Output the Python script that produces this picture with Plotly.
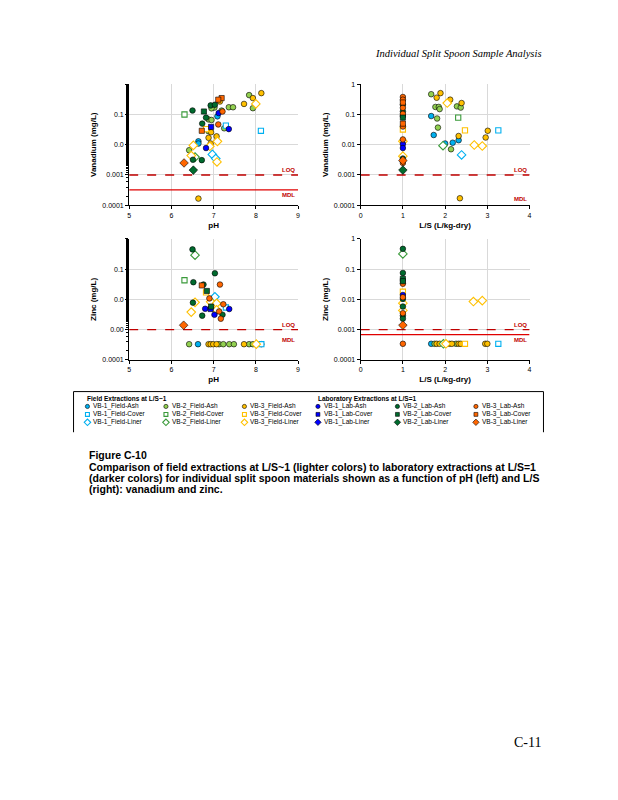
import math
import plotly.graph_objects as go

W, H = 618, 800

# ---------------- series definitions ----------------
SERIES_NAMES = {
    "1FA": "VB-1_Field-Ash", "2FA": "VB-2_Field-Ash", "3FA": "VB-3_Field-Ash",
    "1FC": "VB-1_Field-Cover", "2FC": "VB-2_Field-Cover", "3FC": "VB-3_Field-Cover",
    "1FL": "VB-1_Field-Liner", "2FL": "VB-2_Field-Liner", "3FL": "VB-3_Field-Liner",
    "1LA": "VB-1_Lab-Ash", "2LA": "VB-2_Lab-Ash", "3LA": "VB-3_Lab-Ash",
    "1LC": "VB-1_Lab-Cover", "2LC": "VB-2_Lab-Cover", "3LC": "VB-3_Lab-Cover",
    "1LL": "VB-1_Lab-Liner", "2LL": "VB-2_Lab-Liner", "3LL": "VB-3_Lab-Liner",
}
FIELD_ORDER = ["1FA", "2FA", "3FA", "1FC", "2FC", "3FC", "1FL", "2FL", "3FL"]
LAB_ORDER = ["1LA", "2LA", "3LA", "1LC", "2LC", "3LC", "1LL", "2LL", "3LL"]
FIELD_TITLE = "Field Extractions at L/S~1"
LAB_TITLE = "Laboratory Extractions at L/S=1"

# ---------------- data: Vanadium vs pH ----------------
VPH_SER = ["2LA", "2FC", "2LC", "2LA", "2LA", "2FA", "2FA", "3LC", "3FA", "3LC",
           "3LA", "2FA", "1LA", "1FA", "2FA", "2FA", "3FA", "2FA", "3FA", "3FA",
           "3FL", "2FA", "1FC", "2LA", "2FA", "2FA", "2LA", "3LA", "1FC", "2FA",
           "1LA", "3LC", "3FC", "2FA", "3FA", "1LC", "3FA", "3FA", "3FL", "1FA",
           "1FA", "3FA", "3FL", "1LA", "3FL", "2FA", "1FL", "1FL", "3FL", "3FL",
           "2FL", "2LA", "2LA", "3LL", "2LL", "3FA"]
VPH_X = [6.50, 6.31, 6.77, 6.93, 7.03, 7.02, 6.95, 7.19, 7.15, 7.11,
         7.21, 7.19, 7.12, 7.09, 7.36, 7.46, 7.72, 7.84, 7.93, 8.13,
         8.00, 7.93, 8.12, 6.82, 6.88, 6.95, 6.73, 7.11, 7.29, 7.25,
         7.36, 6.72, 6.82, 6.88, 6.94, 6.94, 6.88, 7.07, 7.09, 6.64,
         6.64, 6.93, 6.91, 6.82, 6.52, 6.42, 6.97, 7.05, 7.08, 6.47,
         6.56, 6.51, 6.72, 6.30, 6.52, 6.64]
VPH_Y = [0.136, 0.100, 0.126, 0.20, 0.21, 0.17, 0.16, 0.35, 0.27, 0.31,
         0.126, 0.135, 0.112, 0.087, 0.174, 0.174, 0.224, 0.44, 0.35, 0.51,
         0.224, 0.162, 0.029, 0.079, 0.069, 0.066, 0.050, 0.047, 0.043, 0.035,
         0.033, 0.029, 0.033, 0.028, 0.026, 0.039, 0.017, 0.019, 0.013, 0.013,
         0.011, 0.011, 0.0089, 0.0078, 0.0095, 0.0066, 0.0048, 0.0035, 0.0027, 0.0044,
         0.0039, 0.0032, 0.0031, 0.0025, 0.00145, 0.000166]

# ---------------- data: Vanadium vs L/S ----------------
VLS_SER = ["3LA", "3LA", "3LC", "2LA", "3LA", "2LA", "3LA", "2LA", "2LC", "3LC",
           "3LA", "3FC", "3LA", "3FL", "1LA", "1LA", "3FL", "2LA", "3LL", "3LA",
           "2LL", "2FA", "3FA", "3FA", "3FL", "3FA", "2FA", "2FA", "2FA", "2FA",
           "2FA", "3FA", "1FA", "2FA", "2FC", "2FA", "3FC", "3FA", "1FC", "1FA",
           "3FA", "3FA", "1FA", "1FA", "1FA", "2FL", "3FL", "3FL", "2FA", "1FL",
           "3FA"]
VLS_X = [1, 1, 1, 1, 1, 1, 1, 1, 1, 1,
         1, 1, 1, 1, 1, 1, 1, 1, 1, 1,
         1, 1.67, 1.89, 1.80, 2.05, 2.12, 1.77, 1.85, 1.87, 2.28,
         2.37, 2.39, 1.67, 1.81, 2.31, 1.83, 2.47, 3.01, 3.26, 1.73,
         2.32, 2.96, 2.32, 2.18, 2.00, 1.95, 2.69, 2.88, 2.14, 2.39,
         2.35]
VLS_Y = [0.38, 0.31, 0.25, 0.21, 0.166, 0.126, 0.105, 0.089, 0.079, 0.050,
         0.040, 0.032, 0.015, 0.013, 0.0105, 0.0078, 0.0042, 0.0035, 0.0030, 0.0025,
         0.00145, 0.47, 0.51, 0.36, 0.24, 0.31, 0.178, 0.178, 0.151, 0.186,
         0.17, 0.24, 0.089, 0.074, 0.079, 0.037, 0.030, 0.029, 0.030, 0.021,
         0.0195, 0.0174, 0.0141, 0.0117, 0.0110, 0.0093, 0.0098, 0.0091, 0.0071, 0.0046,
         0.00017]

# ---------------- data: Zinc vs pH ----------------
ZPH_SER = ["2LA", "2FL", "2FC", "2LA", "2LA", "3LA", "3LC", "2LA", "2LC", "3FC",
           "3LA", "3FL", "1FL", "3FL", "2LA", "3FL", "2LC", "1LA", "1LC", "3FL",
           "3LA", "3LA", "1FC", "1LA", "3FL", "2LA", "1LA", "2LA", "3LA", "3LL",
           "2FA", "1FA", "3FA", "3FA", "3FA", "3FA", "2FA", "2FA", "2FA", "2FA",
           "3FA", "2FA", "2FA", "3FL", "3FA", "1FC"]
ZPH_X = [6.50, 6.56, 6.31, 6.52, 7.03, 7.15, 6.72, 6.76, 6.84, 6.82,
         6.90, 6.93, 7.03, 7.07, 6.51, 6.56, 6.94, 6.80, 6.93, 7.07,
         7.13, 7.23, 7.29, 7.37, 6.47, 6.73, 7.02, 7.21, 7.17, 6.29,
         6.42, 6.63, 6.88, 6.93, 6.99, 7.07, 7.13, 7.23, 7.37, 7.48,
         7.72, 7.84, 7.93, 8.01, 8.13, 8.13]
ZPH_Y = [0.45, 0.29, 0.043, 0.037, 0.073, 0.031, 0.029, 0.031, 0.019, 0.017,
         0.0108, 0.0083, 0.0122, 0.0074, 0.0078, 0.0080, 0.0058, 0.0049, 0.0048, 0.0045,
         0.0040, 0.0069, 0.0054, 0.0048, 0.0038, 0.0029, 0.0031, 0.0031, 0.0023, 0.0014,
         0.00033, 0.00033, 0.00033, 0.00033, 0.00033, 0.00033, 0.00033, 0.00033, 0.00033, 0.00033,
         0.00033, 0.00033, 0.00033, 0.00033, 0.00033, 0.00033]

# ---------------- data: Zinc vs L/S ----------------
ZLS_SER = ["2LA", "2FL", "2LA", "2LC", "2LC", "3LA", "3FC", "1LA", "3LA", "2LA",
           "3FL", "2LA", "3FL", "3LA", "2LA", "2LA", "3LL", "3LA", "3FL", "3FL",
           "1FA", "2FA", "3FA", "3FA", "2FL", "3FL", "3FA", "3FA", "2FA", "3FA",
           "3FA", "3FC", "3FA", "3FA", "1FC"]
ZLS_X = [1, 1, 1, 1, 1, 1, 1, 1, 1, 1,
         1, 1, 1, 1, 1, 1, 1, 1, 2.67, 2.88,
         1.67, 1.75, 1.80, 1.87, 1.96, 2.02, 2.10, 2.16, 2.26, 2.32,
         2.37, 2.47, 2.95, 3.00, 3.26]
ZLS_Y = [0.47, 0.32, 0.075, 0.048, 0.040, 0.033, 0.018, 0.014, 0.0118, 0.0104,
         0.0075, 0.0058, 0.0043, 0.0035, 0.0029, 0.0023, 0.0014, 0.00034, 0.0085, 0.0091,
         0.00034, 0.00034, 0.00034, 0.00034, 0.00034, 0.00034, 0.00034, 0.00034, 0.00034, 0.00034,
         0.00034, 0.00034, 0.00034, 0.00034, 0.00034]

# reference limits
LOQ_V = 0.001
MDL_V = 0.00032
LOQ_ZN = 0.001
MDL_ZN = 0.00068

PH_TICKS = [5, 6, 7, 8, 9]
LS_TICKS = [0, 1, 2, 3, 4]
Y_TICKVALS = [0.0001, 0.001, 0.01, 0.1, 1]
Y_TEXT_LEFT_V = ["0.0001", "0.001", "0.0", "0.1", ""]
Y_TEXT_LEFT_ZN = ["0.0001", "0.00", "0.0", "0.1", ""]
Y_TEXT_RIGHT = ["0.0001", "0.001", "0.01", "0.1", "1"]

CAPTION_HEAD = "Figure C-10"
CAPTION_LINES = [
    "Comparison of field extractions at L/S~1 (lighter colors) to laboratory extractions at L/S=1",
    "(darker colors) for individual split spoon materials shown as a function of pH (left) and L/S",
    "(right): vanadium and zinc.",
]
HEADER = "Individual Split Spoon Sample Analysis"
PAGE_NO = "C-11"

# ---------------- styles ----------------
FIELD_FILL = {"1": "#00B0F0", "2": "#92D050", "3": "#FFC000"}
OPEN_LINE = {"1": "#00B0F0", "2": "#3A9A3A", "3": "#FFC000"}
LAB_FILL = {"1": "#0000FF", "2": "#006B2E", "3": "#FF6600"}
SYMBOL = {"A": "circle", "C": "square", "L": "diamond"}
SIZE = {"A": 5.6, "C": 5.2, "L": 6.6}
RED_D = "#C00000"
RED = "#E00000"
GRID = "#D9D9D9"
FONT = "Liberation Sans, Arial, sans-serif"


def marker_style(code, scale=1.0):
    n, kind, mat = code[0], code[1], code[2]
    if kind == "F" and mat in "CL":
        return dict(symbol=SYMBOL[mat], size=SIZE[mat] * scale, color="white",
                    line=dict(color=OPEN_LINE[n], width=1.1))
    fill = FIELD_FILL[n] if kind == "F" else LAB_FILL[n]
    return dict(symbol=SYMBOL[mat], size=SIZE[mat] * scale, color=fill,
                line=dict(color="black", width=0.6))


def px(xp):
    return xp / W


def py(yp):
    return 1 - yp / H


fig = go.Figure()

PANELS = [
    ("x", "y", VPH_SER, VPH_X, VPH_Y, (5, 9), LOQ_V, MDL_V, True),
    ("x2", "y2", VLS_SER, VLS_X, VLS_Y, (0, 4), LOQ_V, None, False),
    ("x3", "y3", ZPH_SER, ZPH_X, ZPH_Y, (5, 9), LOQ_ZN, None, False),
    ("x4", "y4", ZLS_SER, ZLS_X, ZLS_Y, (0, 4), LOQ_ZN, MDL_ZN, True),
]
MDL_LABEL_VAL = {"y": MDL_V, "y2": 0.00023, "y3": 0.00068, "y4": MDL_ZN}

for xa, ya, ser, xs, ys, xr, loq, mdl, draw_mdl in PANELS:
    fig.add_trace(go.Scatter(x=list(xr), y=[loq, loq], mode="lines", xaxis=xa, yaxis=ya,
                             line=dict(color=RED_D, width=1.3, dash="dash"),
                             showlegend=False, hoverinfo="skip"))
    if draw_mdl:
        fig.add_trace(go.Scatter(x=list(xr), y=[mdl, mdl], mode="lines", xaxis=xa, yaxis=ya,
                                 line=dict(color=RED, width=1.3),
                                 showlegend=False, hoverinfo="skip"))
    for code in FIELD_ORDER + LAB_ORDER:
        px_ = [x for s, x in zip(ser, xs) if s == code]
        py_ = [y for s, y in zip(ser, ys) if s == code]
        if not px_:
            continue
        fig.add_trace(go.Scatter(x=px_, y=py_, mode="markers", xaxis=xa, yaxis=ya,
                                 name=SERIES_NAMES[code], marker=marker_style(code),
                                 showlegend=False, cliponaxis=False))
    xd = "x domain" if xa == "x" else xa + " domain"
    fig.add_annotation(text="<b>LOQ</b>", xref=xd, x=0.995, yref=ya, y=math.log10(loq),
                       xanchor="right", yanchor="bottom", showarrow=False,
                       font=dict(family=FONT, size=6, color=RED_D))
    fig.add_annotation(text="<b>MDL</b>", xref=xd, x=0.995, yref=ya, y=math.log10(MDL_LABEL_VAL[ya]),
                       xanchor="right", yanchor="top", showarrow=False,
                       font=dict(family=FONT, size=6, color=RED_D))

# ---------------- axes ----------------
XL = [px(128), px(298)]
XR = [px(361), px(531)]
YT = [py(203), py(81)]
YB = [py(359), py(237)]

common_x = dict(showgrid=True, gridcolor=GRID, gridwidth=1, showline=True, linecolor="black",
                linewidth=1, ticks="outside", ticklen=3, tickcolor="black", zeroline=False,
                tickfont=dict(family=FONT, size=7, color="black"), fixedrange=True)
common_y = dict(type="log", range=[-4, 0], tickvals=Y_TICKVALS, showgrid=True, gridcolor=GRID,
                gridwidth=1, showline=True, linecolor="black", linewidth=1, ticks="outside",
                ticklen=3, tickcolor="black", zeroline=False,
                tickfont=dict(family=FONT, size=7, color="black"), fixedrange=True)
title_font = dict(family=FONT, size=8, color="black")
minor_ticks = dict(ticks="outside", ticklen=2, tickcolor="black", showgrid=False)

fig.update_layout(
    xaxis=dict(common_x, domain=XL, anchor="y", range=[5, 9], tickvals=PH_TICKS,
               title=dict(text="<b>pH</b>", font=title_font, standoff=4)),
    yaxis=dict(common_y, domain=YT, anchor="x", ticktext=Y_TEXT_LEFT_V, minor=minor_ticks,
               title=dict(text="<b>Vanadium (mg/L)</b>", font=title_font, standoff=4)),
    xaxis2=dict(common_x, domain=XR, anchor="y2", range=[0, 4], tickvals=LS_TICKS,
                title=dict(text="<b>L/S (L/kg-dry)</b>", font=title_font, standoff=4)),
    yaxis2=dict(common_y, domain=YT, anchor="x2", ticktext=Y_TEXT_RIGHT,
                title=dict(text="<b>Vanadium (mg/L)</b>", font=title_font, standoff=4)),
    xaxis3=dict(common_x, domain=XL, anchor="y3", range=[5, 9], tickvals=PH_TICKS,
                title=dict(text="<b>pH</b>", font=title_font, standoff=4)),
    yaxis3=dict(common_y, domain=YB, anchor="x3", ticktext=Y_TEXT_LEFT_ZN, minor=minor_ticks,
                title=dict(text="<b>Zinc (mg/L)</b>", font=title_font, standoff=4)),
    xaxis4=dict(common_x, domain=XR, anchor="y4", range=[0, 4], tickvals=LS_TICKS,
                title=dict(text="<b>L/S (L/kg-dry)</b>", font=title_font, standoff=4)),
    yaxis4=dict(common_y, domain=YB, anchor="x4", ticktext=Y_TEXT_RIGHT,
                title=dict(text="<b>Zinc (mg/L)</b>", font=title_font, standoff=4)),
    xaxis5=dict(domain=[0, 1], range=[0, W], visible=False, anchor="y5", fixedrange=True),
    yaxis5=dict(domain=[0, 1], range=[H, 0], visible=False, anchor="x5", fixedrange=True),
)

# ---------------- legend (manual) ----------------
LEG_TOP, LEG_BOTTOM, LEG_LEFT, LEG_RIGHT = 391, 432, 72, 545
fig.add_shape(type="path", xref="paper", yref="paper",
              path=f"M {px(LEG_LEFT)},{py(LEG_BOTTOM)} L {px(LEG_LEFT)},{py(LEG_TOP)} "
                   f"L {px(LEG_RIGHT)},{py(LEG_TOP)} L {px(LEG_RIGHT)},{py(LEG_BOTTOM)}",
              line=dict(color="black", width=1))

ROW_Y = [406, 414, 422]
TITLE_Y = 398
GROUPS = [(FIELD_TITLE, FIELD_ORDER, [86, 165, 244]),
          (LAB_TITLE, LAB_ORDER, [318, 398, 477])]
for title, order, cols in GROUPS:
    fig.add_annotation(text=f"<b>{title}</b>", xref="paper", yref="paper", x=px(cols[0] - 2),
                       y=py(TITLE_Y), xanchor="left", yanchor="middle", showarrow=False,
                       font=dict(family=FONT, size=6.5, color="black"))
    for i, code in enumerate(order):
        r, c = divmod(i, 3)
        fig.add_trace(go.Scatter(x=[cols[c]], y=[ROW_Y[r]], mode="markers", xaxis="x5", yaxis="y5",
                                 marker=marker_style(code, 0.75), showlegend=False, hoverinfo="skip"))
        fig.add_annotation(text=SERIES_NAMES[code], xref="paper", yref="paper", x=px(cols[c] + 4),
                           y=py(ROW_Y[r]), xanchor="left", yanchor="middle", showarrow=False,
                           font=dict(family=FONT, size=6.5, color="black"))

# ---------------- page texts ----------------
fig.add_annotation(text=f"<i>{HEADER}</i>", xref="paper", yref="paper", x=px(545), y=py(50),
                   xanchor="right", yanchor="middle", showarrow=False,
                   font=dict(family="Liberation Serif, Times New Roman, serif", size=10.5, color="black"))
fig.add_annotation(text=f"<b>{CAPTION_HEAD}</b>", xref="paper", yref="paper", x=px(86), y=py(455),
                   xanchor="left", yanchor="middle", showarrow=False,
                   font=dict(family=FONT, size=10.5, color="black"))
for i, line in enumerate(CAPTION_LINES):
    fig.add_annotation(text=f"<b>{line}</b>", xref="paper", yref="paper", x=px(86),
                       y=py(467 + i * 11.3), xanchor="left", yanchor="middle", showarrow=False,
                       font=dict(family=FONT, size=10.5, color="black"))
fig.add_annotation(text=PAGE_NO, xref="paper", yref="paper", x=px(545), y=py(745),
                   xanchor="right", yanchor="middle", showarrow=False,
                   font=dict(family="Liberation Serif, Times New Roman, serif", size=14, color="black"))

fig.update_layout(width=W, height=H, margin=dict(l=0, r=0, t=0, b=0),
                  paper_bgcolor="white", plot_bgcolor="rgba(0,0,0,0)",
                  showlegend=False, hovermode="closest")

fig.write_html("out.html", config={"displayModeBar": False},
               post_script="document.body.style.margin='0px';")
